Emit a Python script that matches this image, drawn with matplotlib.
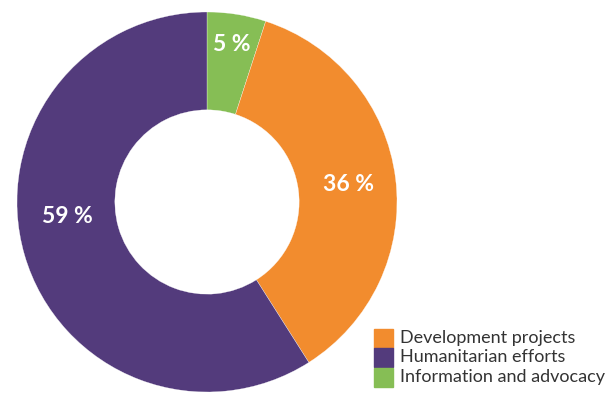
import matplotlib.pyplot as plt
from matplotlib.patches import Rectangle
import numpy as np

# 资料：从参考图读取
categories = ["Information and advocacy", "Development projects", "Humanitarian efforts"]
shares = [5, 36, 59]
colors = ["#86BE55", "#F28C2E", "#533B7C"]
pct_labels = ["5 %", "36 %", "59 %"]
# 标签位置 (角度, 半径)
label_pos = [(81, 0.84), (7, 0.75), (-174, 0.74)]

legend_order = ["Development projects", "Humanitarian efforts", "Information and advocacy"]

fig = plt.figure(figsize=(6.11, 3.97), dpi=100)
ax = fig.add_axes([17 / 611, 5 / 397, 380 / 611, 380 / 397])

ax.pie(shares, colors=colors, startangle=90, counterclock=False, radius=1,
       wedgeprops=dict(width=0.515, edgecolor="white", linewidth=0.2))
ax.set_xlim(-1, 1)
ax.set_ylim(-1, 1)
ax.set_aspect("equal")
ax.set_axis_off()

for lab, (ang, r) in zip(pct_labels, label_pos):
    a = np.deg2rad(ang)
    ax.text(r * np.cos(a), r * np.sin(a), lab, color="white", fontsize=16.5,
            fontweight="bold", family="Lato", ha="center", va="center")

# 图例
col_map = dict(zip(categories, colors))
for i, name in enumerate(legend_order):
    y = 397 - (338 + i * 19.5)
    fig.patches.append(Rectangle((374 / 611, (y - 9.5) / 397), 19 / 611, 19 / 397,
                                 transform=fig.transFigure, color=col_map[name]))
    fig.text(400 / 611, y / 397, name, fontsize=13, family="Lato",
             color="#333333", ha="left", va="center")

fig.savefig("out.png", dpi=100)
